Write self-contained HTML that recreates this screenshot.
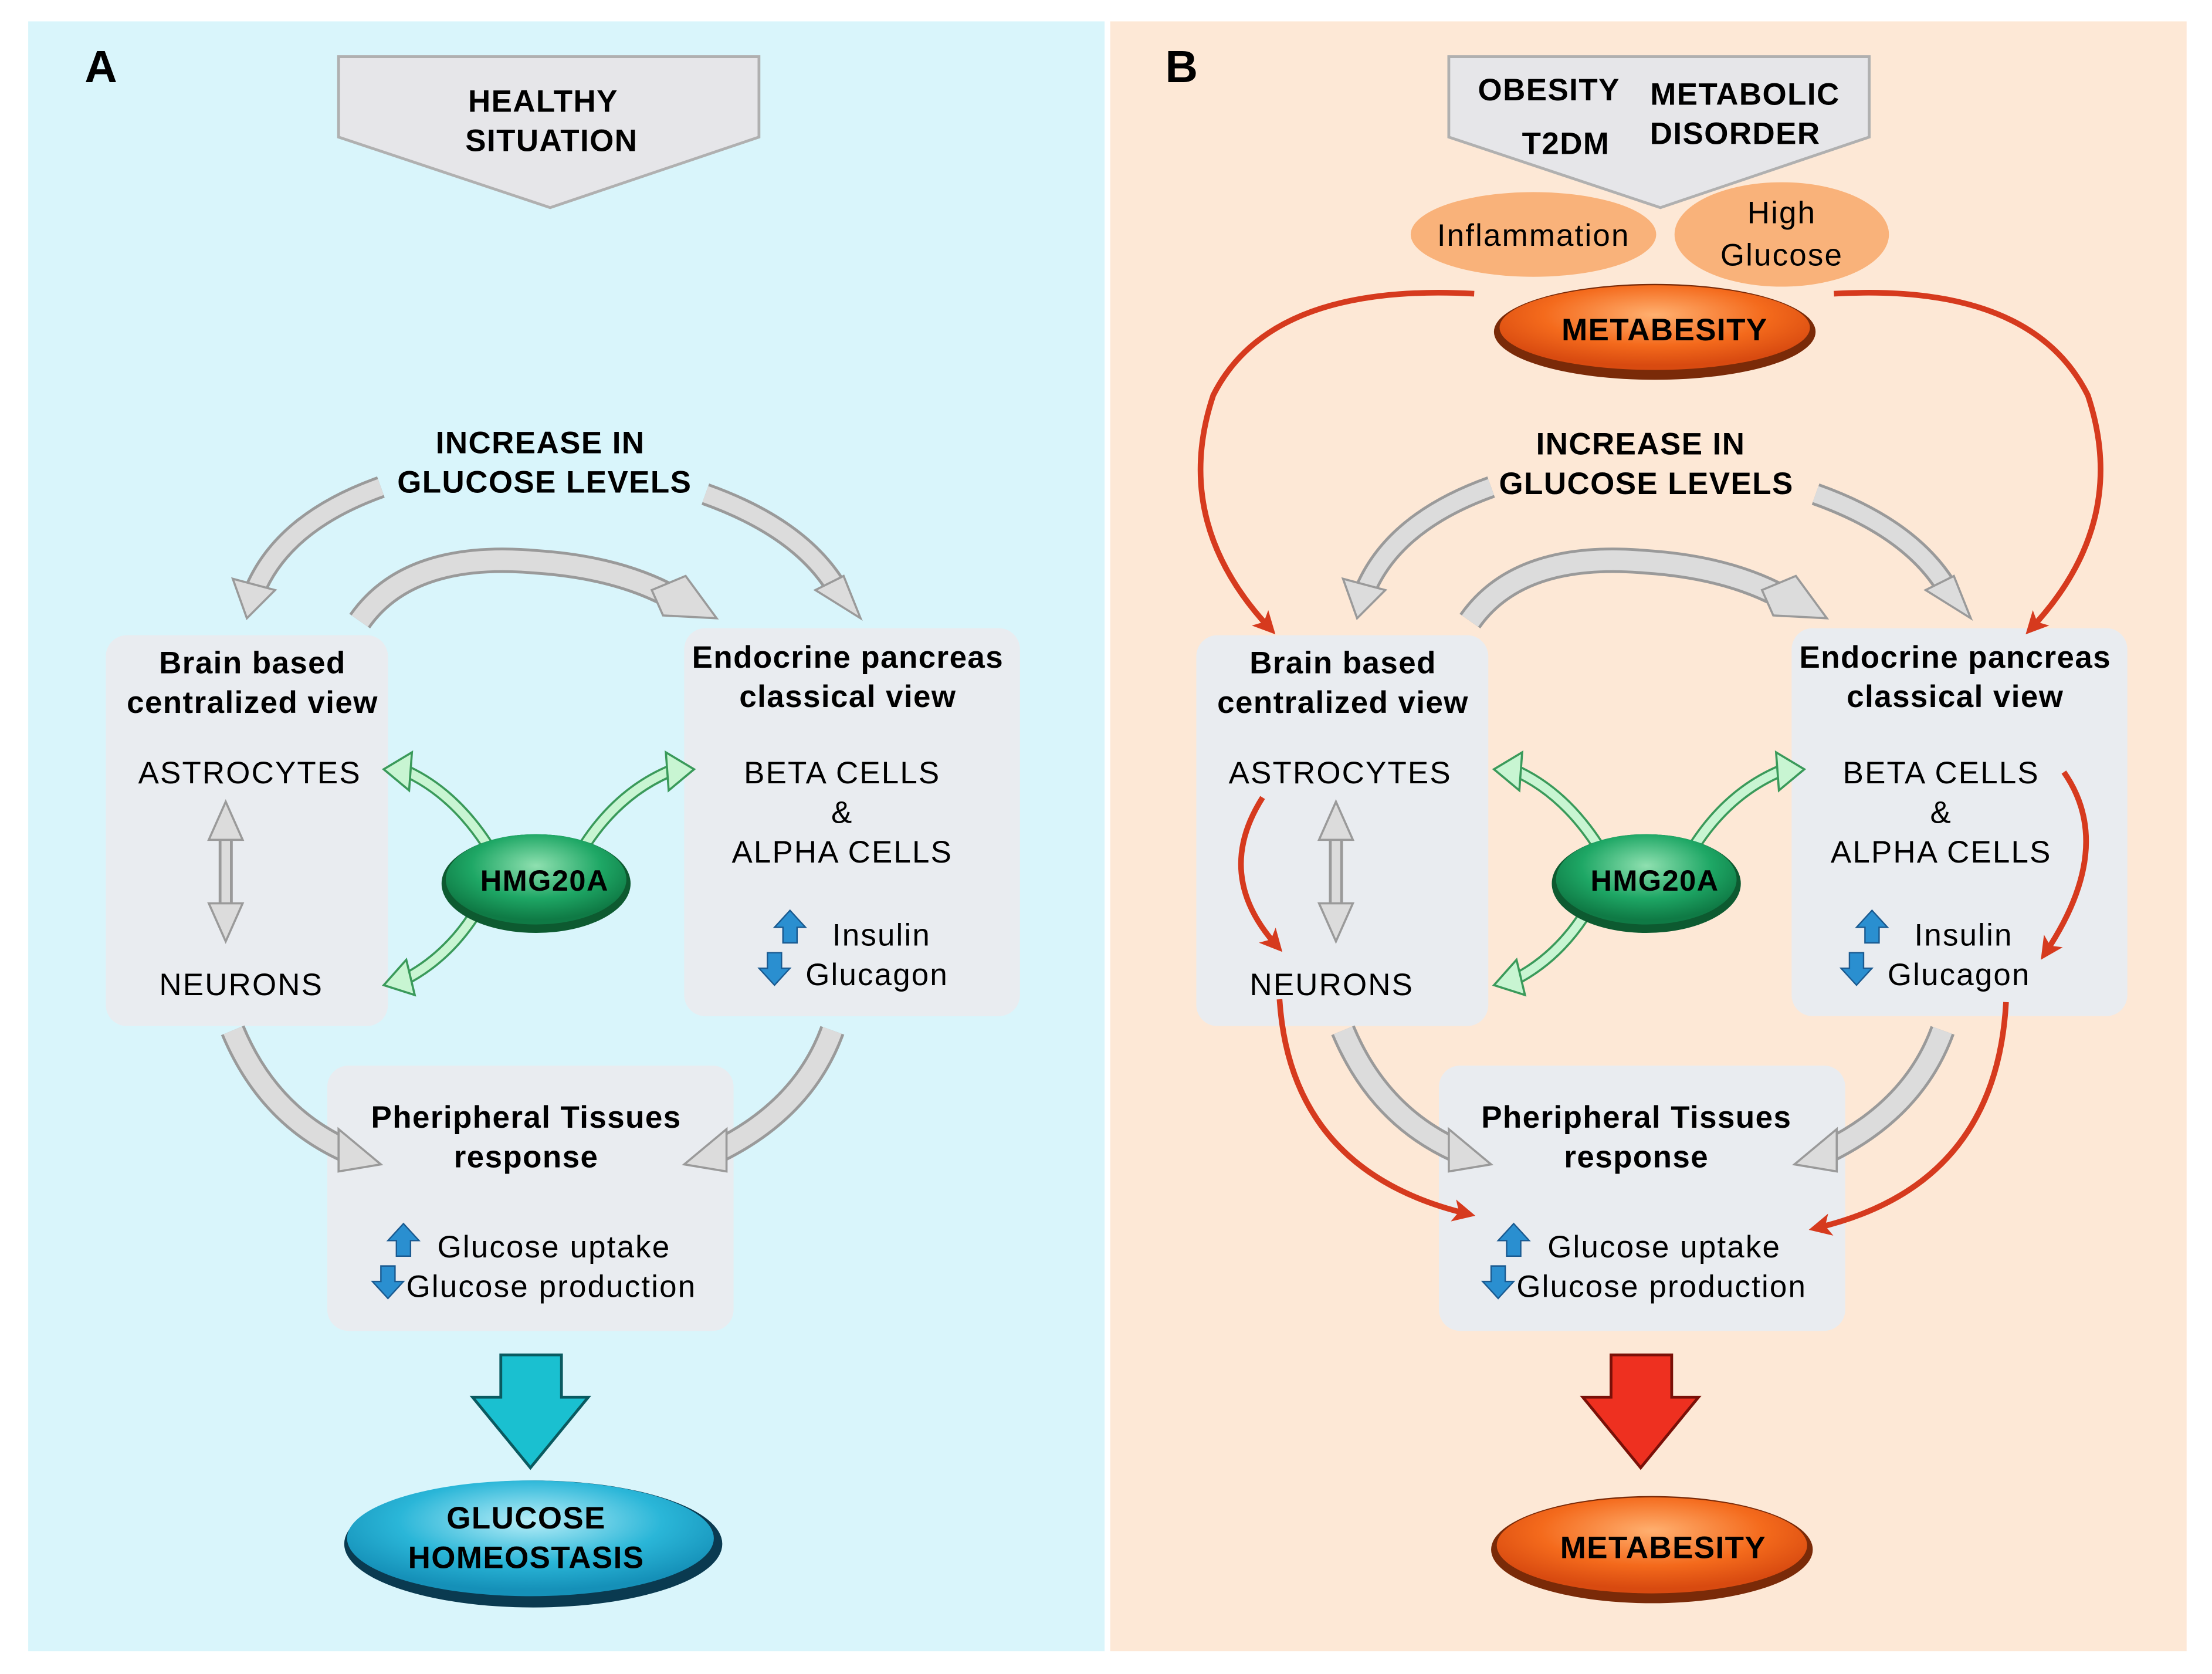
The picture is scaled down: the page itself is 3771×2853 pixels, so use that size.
<!DOCTYPE html>
<html><head><meta charset="utf-8"><style>
html,body{margin:0;padding:0;background:#fff;}
svg{display:block;}
text{font-family:"Liberation Sans",sans-serif;}
.b{font-size:22px;font-weight:bold;letter-spacing:0.6px;}
.r{font-size:22px;letter-spacing:0.9px;}
</style></head><body>
<svg width="3771" height="2853" viewBox="0 0 1568 1186" xmlns="http://www.w3.org/2000/svg">
<defs>
<radialGradient id="og" cx="50%" cy="35%" r="60%"><stop offset="0" stop-color="#ffb070"/><stop offset="0.6" stop-color="#f46a1c"/><stop offset="1" stop-color="#d84a10"/></radialGradient>
<radialGradient id="cg" cx="50%" cy="35%" r="60%"><stop offset="0" stop-color="#b8eef8"/><stop offset="0.6" stop-color="#2ab6d8"/><stop offset="1" stop-color="#1590b8"/></radialGradient>
<radialGradient id="gg" cx="50%" cy="35%" r="60%"><stop offset="0" stop-color="#8fe0b0"/><stop offset="0.6" stop-color="#1ea765"/><stop offset="1" stop-color="#0f7a45"/></radialGradient>
<marker id="rh" markerWidth="4" markerHeight="4" refX="2.5" refY="2" orient="auto" markerUnits="strokeWidth"><path d="M0,0 L4,2 L0,4 L1,2 z" fill="#d63a1e"/></marker>
</defs>
<rect x="20" y="15" width="763" height="1155" fill="#d9f5fb"/>
<rect x="787" y="15" width="763" height="1155" fill="#fde8d6"/>
<text x="60" y="58" font-size="32" font-weight="bold">A</text>
<text x="826" y="58" font-size="32" font-weight="bold">B</text>

<polygon points="240,40 538,40 538,97 390,147 240,97" fill="#e6e6e9" stroke="#b0b0b0" stroke-width="2"/>
<text x="385" y="79" class="b" text-anchor="middle">HEALTHY</text>
<text x="391" y="107" class="b" text-anchor="middle">SITUATION</text>
<polygon points="1027,40 1325,40 1325,97 1177,147 1027,97" fill="#e6e6e9" stroke="#b0b0b0" stroke-width="2"/>
<text x="1098" y="71" class="b" text-anchor="middle">OBESITY</text>
<text x="1237" y="74" class="b" text-anchor="middle">METABOLIC</text>
<text x="1110" y="109" class="b" text-anchor="middle">T2DM</text>
<text x="1230" y="102" class="b" text-anchor="middle">DISORDER</text>

<ellipse cx="1087" cy="166" rx="87" ry="30" fill="#f9b27a"/>
<text x="1087" y="174" class="r" text-anchor="middle">Inflammation</text>
<ellipse cx="1263" cy="166" rx="76" ry="37" fill="#f9b27a"/>
<text x="1263" y="158" class="r" text-anchor="middle">High</text>
<text x="1263" y="188" class="r" text-anchor="middle">Glucose</text>

<ellipse cx="1173" cy="235" rx="114" ry="34" fill="#7a2a08"/>
<ellipse cx="1173" cy="232" rx="110" ry="30" fill="url(#og)"/>
<text x="1180" y="241" class="b" text-anchor="middle">METABESITY</text>

<g fill="#e9ecf0">
<rect x="75" y="450" width="200" height="277" rx="15"/>
<rect x="485" y="445" width="238" height="275" rx="15"/>
<rect x="232" y="755" width="288" height="188" rx="15"/>
<rect x="848" y="450" width="207" height="277" rx="15"/>
<rect x="1270" y="445" width="238" height="275" rx="15"/>
<rect x="1020" y="755" width="288" height="188" rx="15"/>
</g>

<g id="ga" fill="none">
<path d="M270,345 Q200,370 180,420" stroke="#9a9a9a" stroke-width="16"/>
<path d="M270,345 Q200,370 180,420" stroke="#dcdcdc" stroke-width="12"/>
<path d="M500,350 Q570,375 595,420" stroke="#9a9a9a" stroke-width="16"/>
<path d="M500,350 Q570,375 595,420" stroke="#dcdcdc" stroke-width="12"/>
<path d="M255,440 Q290,390 380,398 Q440,402 480,425" stroke="#9a9a9a" stroke-width="18"/>
<path d="M255,440 Q290,390 380,398 Q440,402 480,425" stroke="#dcdcdc" stroke-width="14"/>
<path d="M165,730 Q190,790 245,815" stroke="#9a9a9a" stroke-width="18"/>
<path d="M165,730 Q190,790 245,815" stroke="#dcdcdc" stroke-width="14"/>
<path d="M590,730 Q570,785 510,815" stroke="#9a9a9a" stroke-width="18"/>
<path d="M590,730 Q570,785 510,815" stroke="#dcdcdc" stroke-width="14"/>
<path d="M160,590 L160,645" stroke="#9a9a9a" stroke-width="10"/>
<path d="M160,590 L160,645" stroke="#dcdcdc" stroke-width="6"/>
<g stroke="#9a9a9a" stroke-width="1.5" fill="#dcdcdc">
<polygon points="165,410 195,418 175,438"/>
<polygon points="578,418 598,408 610,438"/>
<polygon points="462,418 486,408 508,438 470,436"/>
<polygon points="240,800 270,825 240,830"/>
<polygon points="515,800 485,825 515,830"/>
<polygon points="148,595 160,568 172,595"/>
<polygon points="148,640 160,667 172,640"/>
</g>
</g>
<use href="#ga" transform="translate(787,0)"/>

<g class="b" text-anchor="middle">
<text x="383" y="321">INCREASE IN</text>
<text x="386" y="349">GLUCOSE LEVELS</text>
<text x="1163" y="322">INCREASE IN</text>
<text x="1167" y="350">GLUCOSE LEVELS</text>
<text x="179" y="477">Brain based</text>
<text x="179" y="505">centralized view</text>
<text x="601" y="473">Endocrine pancreas</text>
<text x="601" y="501">classical view</text>
<text x="373" y="799">Pheripheral Tissues</text>
<text x="373" y="827">response</text>
<text x="952" y="477">Brain based</text>
<text x="952" y="505">centralized view</text>
<text x="1386" y="473">Endocrine pancreas</text>
<text x="1386" y="501">classical view</text>
<text x="1160" y="799">Pheripheral Tissues</text>
<text x="1160" y="827">response</text>
</g>
<g class="r" text-anchor="middle">
<text x="177" y="555">ASTROCYTES</text>
<text x="171" y="705">NEURONS</text>
<text x="597" y="555">BETA  CELLS</text>
<text x="597" y="583">&amp;</text>
<text x="597" y="611">ALPHA CELLS</text>
<text x="950" y="555">ASTROCYTES</text>
<text x="944" y="705">NEURONS</text>
<text x="1376" y="555">BETA  CELLS</text>
<text x="1376" y="583">&amp;</text>
<text x="1376" y="611">ALPHA CELLS</text>
</g>
<g class="r">
<text x="590" y="670">Insulin</text>
<text x="571" y="698">Glucagon</text>
<text x="310" y="891">Glucose uptake</text>
<text x="288" y="919">Glucose production</text>
<text x="1357" y="670">Insulin</text>
<text x="1338" y="698">Glucagon</text>
<text x="1097" y="891">Glucose uptake</text>
<text x="1075" y="919">Glucose production</text>
</g>

<g fill="#2a8fd0" stroke="#1a5a90" stroke-width="1">
<g id="ba">
<polygon points="560,645 571,657 565,657 565,668 555,668 555,657 549,657"/>
<polygon points="549,698 560,686 554,686 554,675 544,675 544,686 538,686"/>
</g>
<use href="#ba" transform="translate(767,0)"/>
<use href="#ba" transform="translate(-274,222)"/>
<use href="#ba" transform="translate(513,222)"/>
</g>

<g id="hm">
<g fill="none" stroke="#3a9a5a" stroke-width="9"><path d="M345,598 Q320,560 285,545"/><path d="M415,598 Q440,560 478,545"/><path d="M335,650 Q315,680 285,695"/></g>
<g fill="none" stroke="#c8f5d2" stroke-width="6"><path d="M345,598 Q320,560 285,545"/><path d="M415,598 Q440,560 478,545"/><path d="M335,650 Q315,680 285,695"/></g>
<g fill="#c8f5d2" stroke="#3a9a5a" stroke-width="1.5">
<polygon points="272,545 292,533 290,560"/>
<polygon points="492,545 472,533 474,560"/>
<polygon points="272,698 288,680 294,705"/>
</g>
<ellipse cx="380" cy="626" rx="67" ry="35" fill="#0d5a30"/>
<ellipse cx="380" cy="623" rx="64" ry="32" fill="url(#gg)"/>
<text x="386" y="631" class="b" text-anchor="middle" style="font-size:21px">HMG20A</text>
</g>
<use href="#hm" transform="translate(787,0)"/>

<polygon points="355,960 398,960 398,990 417,990 376,1040 335,990 355,990" fill="#1ac0d0" stroke="#0a5a60" stroke-width="2"/>
<polygon points="1142,960 1185,960 1185,990 1204,990 1163,1040 1122,990 1142,990" fill="#ee3020" stroke="#7a1008" stroke-width="2"/>

<ellipse cx="378" cy="1094" rx="134" ry="45" fill="#0a3a50"/>
<ellipse cx="376" cy="1090" rx="130" ry="41" fill="url(#cg)"/>
<text x="373" y="1083" class="b" text-anchor="middle">GLUCOSE</text>
<text x="373" y="1111" class="b" text-anchor="middle">HOMEOSTASIS</text>
<ellipse cx="1171" cy="1098" rx="114" ry="38" fill="#7a2a08"/>
<ellipse cx="1171" cy="1095" rx="110" ry="34" fill="url(#og)"/>
<text x="1179" y="1104" class="b" text-anchor="middle">METABESITY</text>

<g fill="none" stroke="#d63a1e" stroke-width="4" marker-end="url(#rh)">
<path d="M1045,208 Q900,200 860,280 Q830,370 900,445"/>
<path d="M1300,208 Q1440,200 1480,280 Q1510,370 1440,445"/>
<path d="M895,565 Q860,620 905,670"/>
<path d="M1463,547 Q1500,600 1450,675"/>
<path d="M907,708 Q915,830 1040,860"/>
<path d="M1422,710 Q1415,840 1288,870"/>
</g>
</svg>
</body></html>
